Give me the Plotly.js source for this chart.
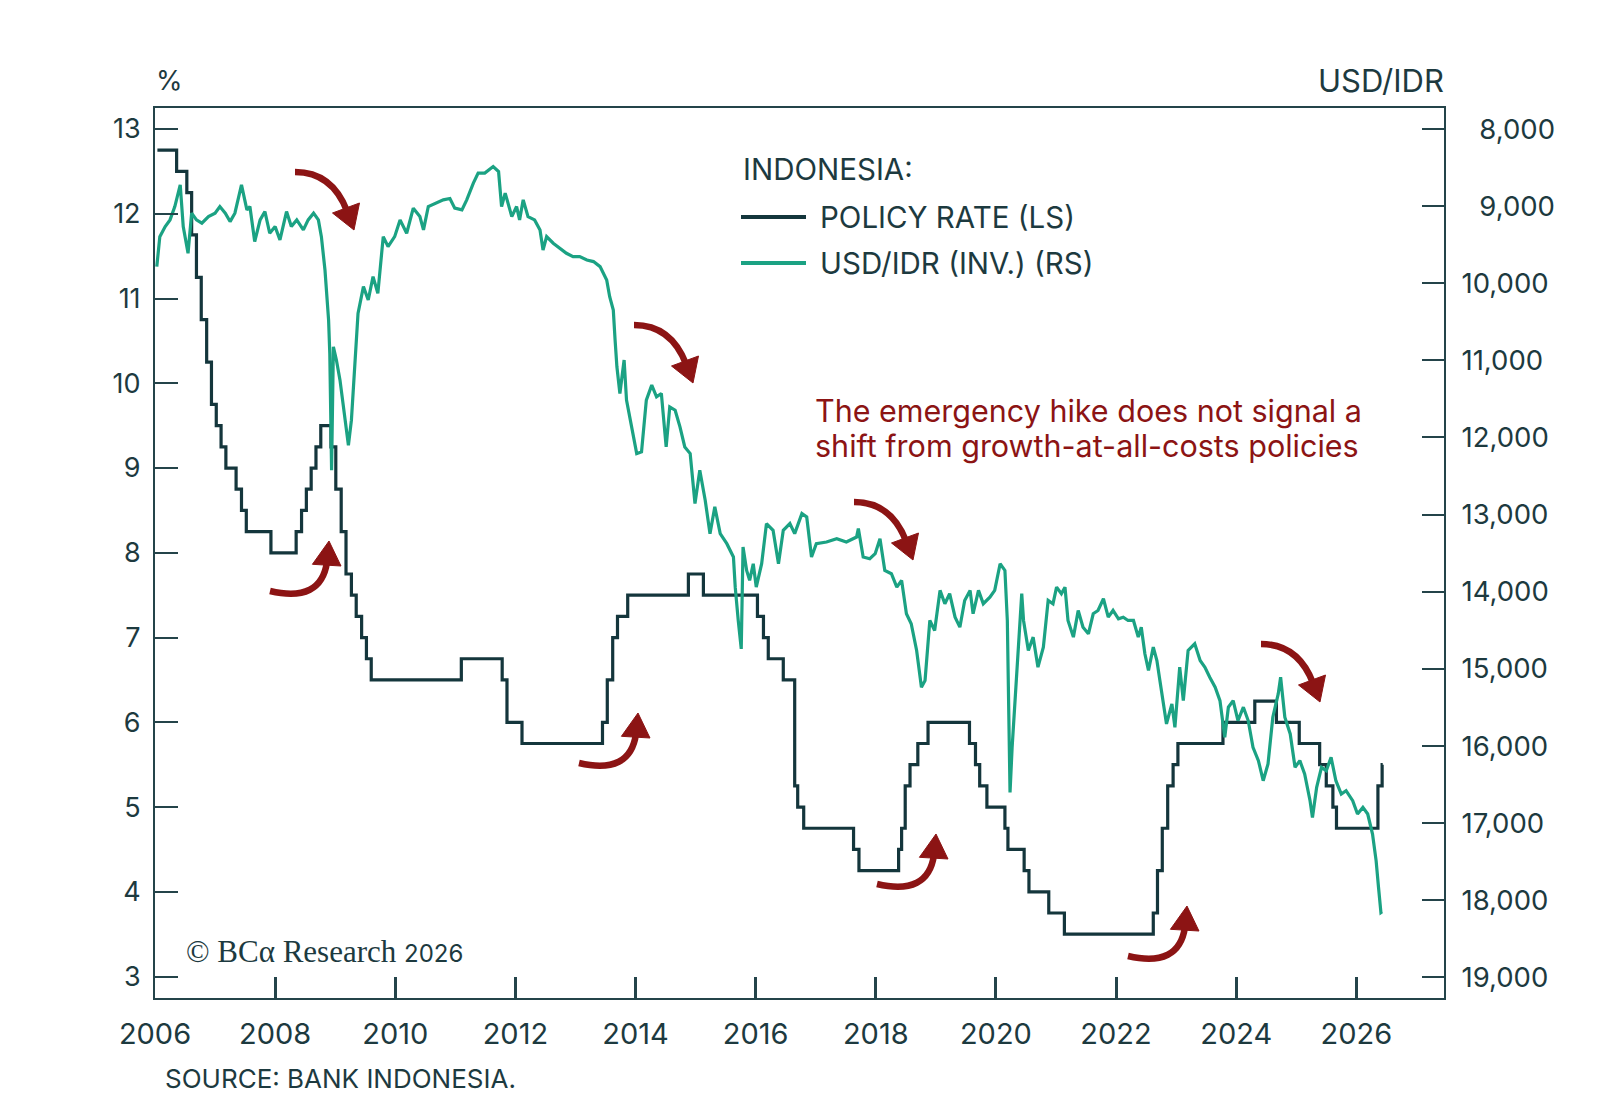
<!DOCTYPE html>
<html>
<head>
<meta charset="utf-8">
<script src="https://cdn.plot.ly/plotly-3.0.1.min.js"></script>
<style>
html,body{margin:0;padding:0;background:#ffffff;}
#chart{width:1600px;height:1107px;}
</style>
</head>
<body>
<div id="chart"></div>
<script>
// ---------------- DATA ----------------
// Policy rate change points (decimal year, %), drawn as a step line
const policyYears = [2006.04,2006.36,2006.53,2006.61,2006.69,2006.77,2006.86,2006.94,2007.02,2007.10,2007.18,2007.35,2007.44,2007.52,2007.93,
  2008.35,2008.44,2008.52,2008.60,2008.68,2008.76,2008.93,2009.01,2009.10,2009.18,2009.27,2009.35,2009.44,2009.52,2009.60,
  2011.10,2011.78,2011.86,2012.11,2013.45,2013.53,2013.62,2013.70,2013.87,2014.88,2015.13,2016.03,2016.13,2016.21,2016.46,
  2016.65,2016.70,2016.80,2017.63,2017.72,2018.38,2018.43,2018.49,2018.57,2018.70,2018.87,2019.56,2019.66,2019.73,2019.85,
  2020.15,2020.20,2020.47,2020.55,2020.88,2021.14,2022.62,2022.69,2022.77,2022.86,2022.95,2023.03,2023.78,2024.31,2024.67,
  2025.05,2025.39,2025.50,2025.61,2025.67,2026.36,2026.43,2026.44];
const policyRates = [12.75,12.50,12.25,11.75,11.25,10.75,10.25,9.75,9.50,9.25,9.00,8.75,8.50,8.25,8.00,
  8.25,8.50,8.75,9.00,9.25,9.50,9.25,8.75,8.25,7.75,7.50,7.25,7.00,6.75,6.50,
  6.75,6.50,6.00,5.75,6.00,6.50,7.00,7.25,7.50,7.75,7.50,7.25,7.00,6.75,6.50,
  5.25,5.00,4.75,4.50,4.25,4.50,4.75,5.25,5.50,5.75,6.00,5.75,5.50,5.25,5.00,
  4.75,4.50,4.25,4.00,3.75,3.50,3.75,4.25,4.75,5.25,5.50,5.75,6.00,6.25,6.00,
  5.75,5.50,5.25,5.00,4.75,5.25,5.50,5.50];

// USD/IDR (decimal year, rupiah per dollar), plotted on an inverted right axis
const fxYears = [2006.03,2006.08,2006.17,2006.25,2006.33,2006.42,2006.47,2006.55,2006.61,2006.69,2006.78,2006.89,2007.00,2007.08,2007.17,
  2007.25,2007.33,2007.44,2007.53,2007.58,2007.66,2007.75,2007.83,2007.91,2008.00,2008.08,2008.19,2008.27,2008.36,2008.47,
  2008.55,2008.64,2008.72,2008.77,2008.83,2008.89,2008.91,2008.94,2008.97,2009.02,2009.08,2009.13,2009.22,2009.27,2009.32,
  2009.38,2009.47,2009.55,2009.63,2009.71,2009.80,2009.88,2009.99,2010.08,2010.19,2010.30,2010.41,2010.47,2010.55,2010.69,
  2010.80,2010.91,2010.99,2011.11,2011.19,2011.30,2011.38,2011.49,2011.63,2011.72,2011.77,2011.83,2011.94,2012.02,2012.07,
  2012.13,2012.21,2012.32,2012.41,2012.46,2012.52,2012.63,2012.74,2012.85,2012.96,2013.07,2013.19,2013.30,2013.41,2013.52,
  2013.57,2013.63,2013.66,2013.69,2013.74,2013.81,2013.85,2013.93,2014.02,2014.10,2014.18,2014.27,2014.35,2014.43,2014.51,
  2014.57,2014.66,2014.74,2014.82,2014.91,2014.99,2015.07,2015.16,2015.24,2015.32,2015.41,2015.52,2015.63,2015.66,2015.71,
  2015.76,2015.79,2015.85,2015.90,2015.96,2016.01,2016.10,2016.18,2016.29,2016.38,2016.46,2016.57,2016.65,2016.77,2016.85,
  2016.93,2017.01,2017.18,2017.35,2017.51,2017.68,2017.71,2017.79,2017.90,2017.99,2018.07,2018.15,2018.26,2018.35,2018.43,
  2018.51,2018.59,2018.68,2018.76,2018.82,2018.90,2018.98,2019.07,2019.15,2019.23,2019.32,2019.40,2019.48,2019.57,2019.62,
  2019.71,2019.79,2019.90,2019.98,2020.07,2020.15,2020.19,2020.235,2020.27,2020.34,2020.43,2020.46,2020.54,2020.62,2020.70,
  2020.79,2020.87,2020.95,2021.01,2021.09,2021.15,2021.20,2021.29,2021.37,2021.45,2021.54,2021.62,2021.70,2021.79,2021.87,
  2021.95,2022.04,2022.12,2022.20,2022.29,2022.37,2022.42,2022.48,2022.54,2022.62,2022.68,2022.73,2022.79,2022.84,2022.93,
  2022.98,2023.06,2023.12,2023.20,2023.31,2023.40,2023.48,2023.56,2023.65,2023.73,2023.81,2023.87,2023.95,2024.03,2024.12,
  2024.20,2024.28,2024.37,2024.45,2024.53,2024.61,2024.70,2024.74,2024.81,2024.90,2024.98,2025.06,2025.14,2025.23,2025.27,
  2025.34,2025.42,2025.50,2025.58,2025.66,2025.75,2025.83,2025.94,2026.02,2026.11,2026.19,2026.27,2026.33,2026.37,2026.41,
  2026.43];
const fxValues = [9785,9395,9265,9178,9005,8723,9265,9611,9091,9178,9221,9135,9091,9005,9091,
  9200,9091,8723,9048,9005,9460,9178,9070,9351,9265,9438,9070,9265,9178,9308,
  9178,9091,9178,9395,9828,10477,10909,12424,10823,10996,11256,11559,12100,11776,11126,
  10390,10044,10217,9914,10130,9395,9525,9395,9178,9351,9026,9135,9308,9005,8961,
  8918,8900,9026,9048,8918,8701,8571,8571,8486,8551,9005,8831,9135,9005,9178,
  8918,9135,9178,9308,9568,9395,9481,9546,9611,9654,9654,9698,9719,9784,9957,
  10174,10347,10737,11083,11429,10996,11516,11862,12208,12187,11516,11321,11473,11429,12122,
  11603,11646,11862,12122,12208,12857,12424,12814,13247,12900,13247,13377,13550,13941,14373,
  14741,13421,13724,13853,13637,13941,13637,13117,13204,13637,13204,13117,13247,12987,13031,
  13550,13377,13356,13312,13356,13291,13182,13550,13572,13507,13312,13724,13767,13941,13853,
  14286,14416,14762,15239,15152,14373,14503,13983,14156,14026,14330,14460,14113,13983,14286,
  13983,14156,14070,13983,13637,13724,14373,16603,16018,15152,14026,14373,14762,14589,14979,
  14719,14113,14156,13941,14026,13941,14373,14589,14243,14460,14546,14286,14243,14091,14330,
  14243,14351,14330,14373,14373,14589,14460,14805,15022,14719,14892,15152,15455,15715,15455,
  15758,14979,15412,14762,14676,14892,14979,15109,15239,15412,15888,15498,15412,15671,15498,
  15671,16018,16191,16451,16234,15628,15325,15109,15628,15845,16278,16191,16364,16710,16927,
  16537,16278,16321,16148,16451,16624,16581,16710,16883,16797,16883,17143,17490,17836,18161,
  18150];

// Axis ticks and labels
const xTickYears = [2006,2008,2010,2012,2014,2016,2018,2020,2022,2024,2026];
const leftTicks = [3,4,5,6,7,8,9,10,11,12,13];
const rightTicks = [8000,9000,10000,11000,12000,13000,14000,15000,16000,17000,18000,19000];
const rightTickLabels = rightTicks.map(v => (v < 10000 ? '\u2007' : '') + v.toLocaleString('en-US'));

// Text
const seriesNames = ['POLICY RATE (LS)', 'USD/IDR (INV.) (RS)'];
const legendTitle = 'INDONESIA:';
const noteLines = ['The emergency hike does not signal a', 'shift from growth-at-all-costs policies'];

// ---------------- STYLE ----------------
const FONT = 'Inter, "Open Sans", "DejaVu Sans", sans-serif';
const TXT = '#1d3a3f';
const AXIS = '#24444a';
const DARK = '#14363c';
const GREEN = '#1ba283';
const RED = '#8c1414';

const W = 1600, H = 1107, ML = 155, MR = 156, MT = 108, MB = 109;
const PW = W - ML - MR, PH = H - MT - MB;
const px = X => (X - ML) / PW;          // page pixel -> paper x
const py = Y => (H - MB - Y) / PH;      // page pixel -> paper y

// curved annotation arrows (decorations), given by their tip position on the page
function arrowShapes(tx, ty, dir) {
  let tail, ctrl, end, head;
  if (dir === 'down') {
    tail = [-59, -58]; ctrl = [-22, -58]; end = [-7, -19];
    head = [[-21.5, -17], [5.5, -27], [0, 0]];
  } else {
    tail = [-59, 50]; ctrl = [-8, 62]; end = [-2, 21];
    head = [[-16.6, 23.3], [12, 25], [0, 0]];
  }
  const P = (d) => px(tx + d[0]).toFixed(5) + ',' + py(ty + d[1]).toFixed(5);
  return [
    {type: 'path', xref: 'paper', yref: 'paper', layer: 'above',
     path: 'M' + P(tail) + ' Q' + P(ctrl) + ' ' + P(end),
     line: {color: RED, width: 6.5}, fillcolor: 'rgba(0,0,0,0)'},
    {type: 'path', xref: 'paper', yref: 'paper', layer: 'above',
     path: 'M' + P(head[0]) + ' L' + P(head[1]) + ' L' + P(head[2]) + ' Z',
     line: {color: RED, width: 1}, fillcolor: RED}
  ];
}
const arrowTips = [
  [354, 230, 'down'], [693, 383, 'down'], [913, 560, 'down'], [1320, 702, 'down'],
  [329, 541, 'up'], [638, 713, 'up'], [936, 834, 'up'], [1187, 906, 'up']
];
let shapes = [];
arrowTips.forEach(a => { shapes = shapes.concat(arrowShapes(a[0], a[1], a[2])); });

// legend key lines (drawn like the reference: long strokes)
const legendColors = [DARK, GREEN];
const legendRowsY = [217, 263];
legendRowsY.forEach((y, i) => {
  shapes.push({type: 'line', xref: 'paper', yref: 'paper', layer: 'above',
    x0: px(741), x1: px(806), y0: py(y), y1: py(y),
    line: {color: legendColors[i], width: 4}});
});

const traces = [
  {x: policyYears, y: policyRates, type: 'scatter', mode: 'lines', name: seriesNames[0],
   line: {color: DARK, width: 3.2, shape: 'hv'}, yaxis: 'y', showlegend: false, hoverinfo: 'skip'},
  {x: fxYears, y: fxValues, type: 'scatter', mode: 'lines', name: seriesNames[1],
   line: {color: GREEN, width: 3.2}, yaxis: 'y2', showlegend: false, hoverinfo: 'skip'}
];

const axisCommon = {
  showgrid: false, zeroline: false, showline: true, linecolor: AXIS, linewidth: 2,
  ticks: 'inside', tickcolor: AXIS
};

const ann = (text, X, Y, xanchor, size, extra) => Object.assign({
  text: text, xref: 'paper', yref: 'paper', x: px(X), y: py(Y), xanchor: xanchor, yanchor: 'middle',
  showarrow: false, align: 'left', font: {size: size, color: TXT, family: FONT}
}, extra || {});

const annotations = [
  ann('%', 154, 80, 'left', 27),
  ann('USD/IDR', 1446, 81, 'right', 31),
  ann(legendTitle, 741, 169, 'left', 29.5),
  ann(seriesNames[0], 818, 217, 'left', 29.5),
  ann(seriesNames[1], 818, 263, 'left', 29.5),
  ann(noteLines[0], 813, 410, 'left', 30.5, {font: {size: 30.5, color: RED, family: FONT}}),
  ann(noteLines[1], 813, 446, 'left', 30.5, {font: {size: 30.5, color: RED, family: FONT}}),
  ann('© BCα Research <span style="font-family:Inter,sans-serif;font-size:24px">2026</span>', 184, 951, 'left', 31,
      {font: {size: 31, color: TXT, family: '"Liberation Serif", "DejaVu Serif", serif'}}),
  ann('SOURCE: BANK INDONESIA.', 163, 1078, 'left', 26)
];

const layout = {
  width: W, height: H,
  margin: {l: ML, r: MR, t: MT, b: MB, pad: 0},
  paper_bgcolor: '#ffffff', plot_bgcolor: '#ffffff',
  font: {family: FONT, color: TXT},
  showlegend: false,
  xaxis: Object.assign({}, axisCommon, {
    range: [2006, 2027.46], tickvals: xTickYears, ticktext: xTickYears.map(String),
    ticklen: 21, tickwidth: 3, mirror: true,
    tickfont: {size: 29, color: TXT, family: FONT}, ticklabelstandoff: 9
  }),
  yaxis: Object.assign({}, axisCommon, {
    range: [2.747, 13.248], tickvals: leftTicks, ticktext: leftTicks.map(String),
    ticklen: 23, tickwidth: 2,
    tickfont: {size: 27, color: TXT, family: FONT}, ticklabelstandoff: 7
  }),
  yaxis2: Object.assign({}, axisCommon, {
    overlaying: 'y', side: 'right',
    range: [19269, 7727], tickvals: rightTicks, ticktext: rightTickLabels,
    ticklen: 22, tickwidth: 2,
    tickfont: {size: 27.5, color: TXT, family: FONT}, ticklabelstandoff: 10
  }),
  shapes: shapes,
  annotations: annotations
};

Plotly.newPlot('chart', traces, layout, {displayModeBar: false, staticPlot: true});
</script>
</body>
</html>
